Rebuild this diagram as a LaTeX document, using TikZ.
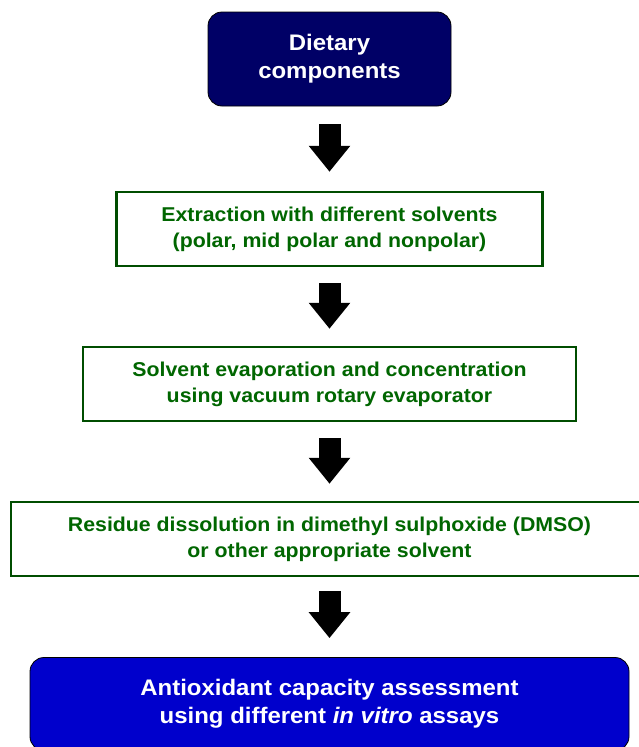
\documentclass[tikz,border=0pt]{standalone}
\usepackage{fontspec}
\setmainfont{Liberation Sans}[FakeStretch=1.065]
\usetikzlibrary{arrows.meta,calc}
\definecolor{navyfill}{HTML}{000066}
\definecolor{royalfill}{HTML}{0000CC}
\definecolor{greentext}{HTML}{006600}
\definecolor{greenline}{HTML}{004D00}
\begin{document}
\begin{tikzpicture}[x=1pt,y=-1pt,
  darkbox/.style={rectangle, rounded corners=14pt, draw=black, line width=0.8pt,
    text=white, font=\bfseries\fontsize{22.5}{28}\selectfont, align=center, inner sep=0pt},
  greenbox/.style={rectangle, draw=greenline, line width=2.5pt, fill=white,
    text=greentext, font=\bfseries\fontsize{20}{26}\selectfont, align=center, inner sep=0pt},
  blockarrow/.style={draw=black, line width=22pt, -{Triangle[width=40pt,length=26pt]}}]
\useasboundingbox (0,0) rectangle (639,747);
\begin{scope}
\clip (0,0) rectangle (639,747);
\node[darkbox, fill=navyfill, minimum width=243pt, minimum height=94pt] (n1) at (329.5,59) {Dietary\\components};
\node[greenbox, minimum width=426pt, minimum height=74pt] (n2) at (329.5,229) {Extraction with different solvents\\ (polar, mid polar and nonpolar)};
\node[greenbox, minimum width=493pt, minimum height=74pt] (n3) at (329.5,384) {Solvent evaporation and concentration\\ using vacuum rotary evaporator};
\node[greenbox, minimum width=637pt, minimum height=74pt] (n4) at (329.5,539) {Residue dissolution in dimethyl sulphoxide (DMSO)\\or other appropriate solvent};
\node[darkbox, fill=royalfill, minimum width=599pt, minimum height=93pt] (n5) at (329.5,704) {Antioxidant capacity assessment\\using different \textit{in vitro} assays};
\draw[blockarrow] ($(n1.south)+(0,18)$) -- ($(n2.north)+(0,-19)$);
\draw[blockarrow] ($(n2.south)+(0,16)$) -- ($(n3.north)+(0,-17)$);
\draw[blockarrow] ($(n3.south)+(0,16)$) -- ($(n4.north)+(0,-17)$);
\draw[blockarrow] ($(n4.south)+(0,14)$) -- ($(n5.north)+(0,-19)$);
\end{scope}
\end{tikzpicture}
\end{document}
